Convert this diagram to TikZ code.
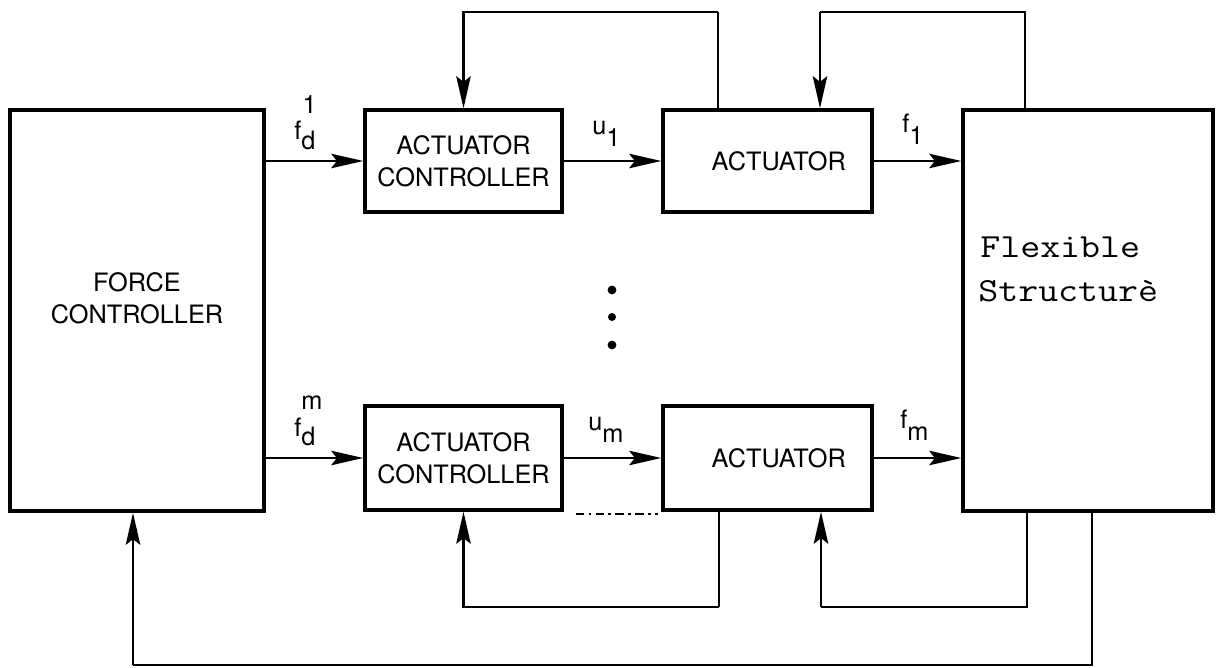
\documentclass[tikz,border=0pt]{standalone}
\usepackage{fontspec}
\setmainfont{TeX Gyre Heros}
\usetikzlibrary{arrows.meta}
\begin{document}
\begin{tikzpicture}[x=0.025cm,y=-0.025cm,
  blk/.style={draw, line width=2.4pt, inner sep=0pt, font=\fontsize{18}{23}\selectfont, align=center},
  conn/.style={line width=1.8pt},
  arr/.style={conn, -{Stealth[length=0.8cm,width=0.36cm,inset=0.14cm]}},
  lbl/.style={inner sep=0pt, anchor=base west, font=\fontsize{18}{21}\selectfont},
  mono/.style={inner sep=0pt, anchor=base west, font=\ttfamily\fontsize{24}{30}\selectfont},
  artifact/.style={line width=1pt, dash pattern=on 6pt off 3pt on 2pt off 3pt}]
\useasboundingbox (0,0) rectangle (1216,668);

% blocks
\node[blk, minimum width=6.35cm, minimum height=10.025cm] (fc) at (137,310.5) {};
\node[inner sep=0pt, font=\fontsize{18}{23}\selectfont, align=center] (fct) at (137,298) {FORCE\\CONTROLLER};
\node[blk, minimum width=4.925cm, minimum height=2.55cm] (ac1) at (463.5,161) {ACTUATOR\\CONTROLLER};
\node[blk, minimum width=5.225cm, minimum height=2.55cm] (a1) at (767.5,161) {\hspace{16pt}ACTUATOR};
\node[blk, minimum width=4.925cm, minimum height=2.6cm] (ac2) at (463.5,458) {ACTUATOR\\CONTROLLER};
\node[blk, minimum width=5.225cm, minimum height=2.6cm] (a2) at (767.5,458) {\hspace{16pt}ACTUATOR};
\node[blk, minimum width=6.25cm, minimum height=10.025cm] (fs) at (1088,310.5) {};
\node[mono] (fs1) at (980,258) {\scalebox{1.15}[1]{Flexible}};
\node[mono] (fs2) at (978,302) {\scalebox{1.15}[1]{Structurè}};

% forward connectors
\draw[arr] (fc.east |- ac1.west) -- (ac1.west);
\draw[arr] (ac1.east) -- (a1.west);
\draw[arr] (a1.east) -- (fs.west |- a1.east);
\draw[arr] (fc.east |- ac2.west) -- (ac2.west);
\draw[arr] (ac2.east) -- (a2.west);
\draw[arr] (a2.east) -- (fs.west |- a2.east);

% labels
\node[lbl] (lfd1) at (294,140) {f\raisebox{-7pt}{\rlap{\hspace{1pt}\raisebox{26pt}{1}}d}};
\node[lbl] (lu1) at (592,135) {u\raisebox{-8.5pt}{1}};
\node[lbl] (lf1) at (902,133) {f\raisebox{-8.5pt}{1}};
\node[lbl] (lfdm) at (294,436) {f\raisebox{-7pt}{\rlap{\raisebox{26pt}{m}}d}};
\node[lbl] (lum) at (588,431) {u\raisebox{-8.5pt}{m}};
\node[lbl] (lfm) at (900,429) {f\raisebox{-8.5pt}{m}};

% top feedback loops
\coordinate (t1) at (718,12);
\draw[conn] (t1 |- a1.north) -- (t1);
\draw[arr] (t1) -| (ac1.north);
\coordinate (t2) at (1025,12);
\coordinate (t2b) at (820,12);
\draw[conn] (t2 |- fs.north) -- (t2) -- (t2b);
\draw[arr] (t2b) -- (t2b |- a1.north);

% bottom feedback loops
\coordinate (b1) at (719,607);
\draw[conn] (b1 |- a2.south) -- (b1);
\draw[arr] (b1) -| (ac2.south);
\coordinate (b2) at (1027,607);
\coordinate (b2b) at (821,607);
\draw[conn] (b2 |- fs.south) -- (b2) -- (b2b);
\draw[arr] (b2b) -- (b2b |- a2.south);
\coordinate (b3) at (1092,665);
\coordinate (b3b) at (133,665);
\draw[conn] (b3 |- fs.south) -- (b3) -- (b3b);
\draw[arr] (b3b) -- (b3b |- fc.south);

% dots
\fill (612,290) circle[radius=0.11cm];
\fill (612,317) circle[radius=0.1cm];
\fill (612,345) circle[radius=0.11cm];

% faint dashed trace
\coordinate (da) at (576,514);
\coordinate (db) at (658,514);
\draw[artifact] (da) -- (db);
\end{tikzpicture}
\end{document}
